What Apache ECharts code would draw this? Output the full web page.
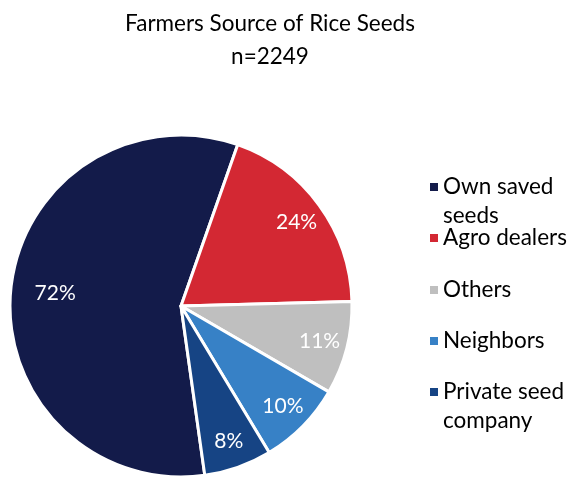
<!DOCTYPE html>
<html>
<head>
<meta charset="utf-8">
<script src="https://cdn.jsdelivr.net/npm/echarts@6/dist/echarts.min.js"></script>
<style>
html,body{margin:0;padding:0;background:#fff;}
#chart{width:570px;height:479px;}
</style>
</head>
<body>
<div id="chart"></div>
<script>
// ---- data ----
var categories = ['Own saved seeds', 'Agro dealers', 'Others', 'Neighbors', 'Private seed company'];
var values = [72, 24, 11, 10, 8];
var legendLabels = ['Own saved\nseeds', 'Agro dealers', 'Others', 'Neighbors', 'Private seed\ncompany'];
var colors = ['#131b4a', '#d32833', '#bfbfbf', '#3781c6', '#164484'];
var titleText = 'Farmers Source of Rice Seeds';
var subtitleText = 'n=2249';

// ---- layout ----
var FONT = 'Lato';
var center = [181, 306];
var R = 171;
var LH = 29;
var SQ = 8;
var legendCenters = [187, 238, 290, 341, 392];

var pieData = categories.map(function (c, i) {
  return { name: c, value: values[i], itemStyle: { color: colors[i] } };
});

function overlayData(showIdx) {
  return categories.map(function (c, i) {
    return {
      name: c, value: values[i],
      label: { show: showIdx.indexOf(i) >= 0 }
    };
  });
}

var legends = categories.map(function (c, i) {
  var twoLine = legendLabels[i].indexOf('\n') >= 0;
  var h = twoLine ? SQ + LH : SQ;
  // square at the top of the icon box so it lines up with the first text line
  var icon = twoLine
    ? 'path://M0,0L' + SQ + ',0L' + SQ + ',' + SQ + 'L0,' + SQ + 'ZM0,' + h + 'L' + SQ + ',' + h
    : 'rect';
  return {
    orient: 'vertical',
    left: 430,
    top: legendCenters[i] - LH / 2,
    padding: 0,
    itemWidth: SQ,
    itemHeight: h,
    itemGap: 0,
    icon: icon,
    itemStyle: { borderWidth: 0 },
    selectedMode: false,
    data: [c],
    formatter: function () { return legendLabels[i]; },
    textStyle: {
      fontFamily: FONT, fontSize: 22.5, color: '#000', lineHeight: LH
    }
  };
});

var chart = echarts.init(document.getElementById('chart'), null, { renderer: 'canvas' });
chart.setOption({
  backgroundColor: '#fff',
  animation: false,
  title: {
    text: titleText + '\n' + subtitleText,
    left: 270,
    top: 7,
    padding: 0,
    textAlign: 'center',
    textStyle: { fontFamily: FONT, fontSize: 22.5, fontWeight: 'normal', color: '#000', lineHeight: 33 }
  },
  legend: legends,
  series: [
    {
      type: 'pie',
      center: center,
      radius: [0, R],
      startAngle: -82,
      clockwise: true,
      silent: true,
      label: { show: false },
      labelLine: { show: false },
      itemStyle: { borderColor: '#fff', borderWidth: 3 },
      data: pieData
    },
    {
      type: 'pie',
      center: center,
      radius: [109, R],
      startAngle: -82,
      clockwise: true,
      silent: true,
      legendHoverLink: false,
      itemStyle: { color: 'rgba(0,0,0,0)' },
      label: {
        position: 'inside', color: '#fff', fontFamily: FONT, fontSize: 21,
        formatter: function (p) { return p.value + '%'; }
      },
      labelLine: { show: false },
      data: overlayData([1, 2, 3, 4])
    },
    {
      type: 'pie',
      center: center,
      radius: [76, R],
      startAngle: -82,
      clockwise: true,
      silent: true,
      legendHoverLink: false,
      itemStyle: { color: 'rgba(0,0,0,0)' },
      label: {
        position: 'inside', color: '#fff', fontFamily: FONT, fontSize: 21,
        formatter: function (p) { return p.value + '%'; }
      },
      labelLine: { show: false },
      data: overlayData([0])
    }
  ]
});
</script>
</body>
</html>
